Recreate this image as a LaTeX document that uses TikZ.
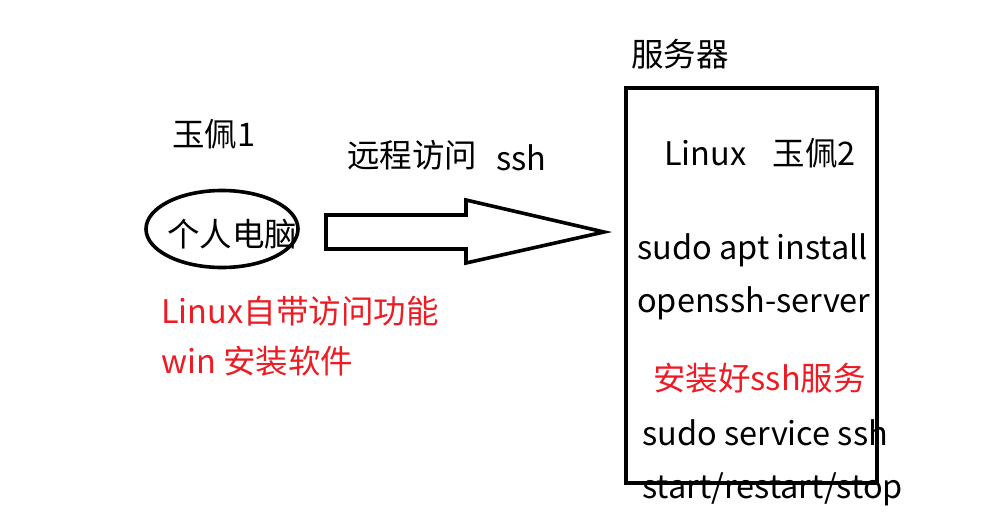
\documentclass[tikz,border=0pt]{standalone}
\usepackage{fontspec}
\setmainfont{Noto Sans CJK SC}
\usetikzlibrary{shapes.geometric}
\definecolor{redtxt}{RGB}{237,28,36}
\tikzset{
  txt/.style={anchor=base west, inner sep=0pt, font=\fontsize{32.5}{32.5}\selectfont},
  redt/.style={txt, text=redtxt},
  thick4/.style={line width=3.6pt},
}
\begin{document}
\begin{tikzpicture}[x=1pt,y=-1pt]
\useasboundingbox (0,0) rectangle (983,512);
% left side
\node[txt] (yp1) at (172,146) {玉佩1};
\node[draw, thick4, ellipse, minimum width=152pt, minimum height=77pt, inner sep=0pt] (pc) at (222,229) {};
\node[txt] (pct) at (167,246) {个人电脑};
\node[txt] (remote) at (347,167) {远程访问};
\node[txt] (ssh) at (496,170) {ssh};
\node[redt] (r1) at (161,323) {Linux自带访问功能};
\node[redt] (r2) at (161,373) {win 安装软件};
% big arrow
\draw[thick4, line join=miter] (326,215) -- (466,215) -- (466,200) -- (604,232) -- (466,263) -- (466,249) -- (326,249) -- cycle;
% server texts
\node[txt] (srv) at (631,66) {服务器};
\node[txt] (l1) at (664,165) {Linux\hspace{26pt}玉佩2};
\node[txt] (l2) at (637,259) {sudo apt install};
\node[txt] (l3) at (637,312) {openssh-server};
\node[redt] (l4) at (653,390) {安装好ssh服务};
\node[txt] (l5) at (642,445) {sudo service ssh};
\node[txt] (l6) at (642,498) {start/restart/stop};
% server box drawn on top
\node[draw, thick4, rectangle, minimum width=251pt, minimum height=395pt, inner sep=0pt] (box) at (751.5,285.5) {};
\end{tikzpicture}
\end{document}
